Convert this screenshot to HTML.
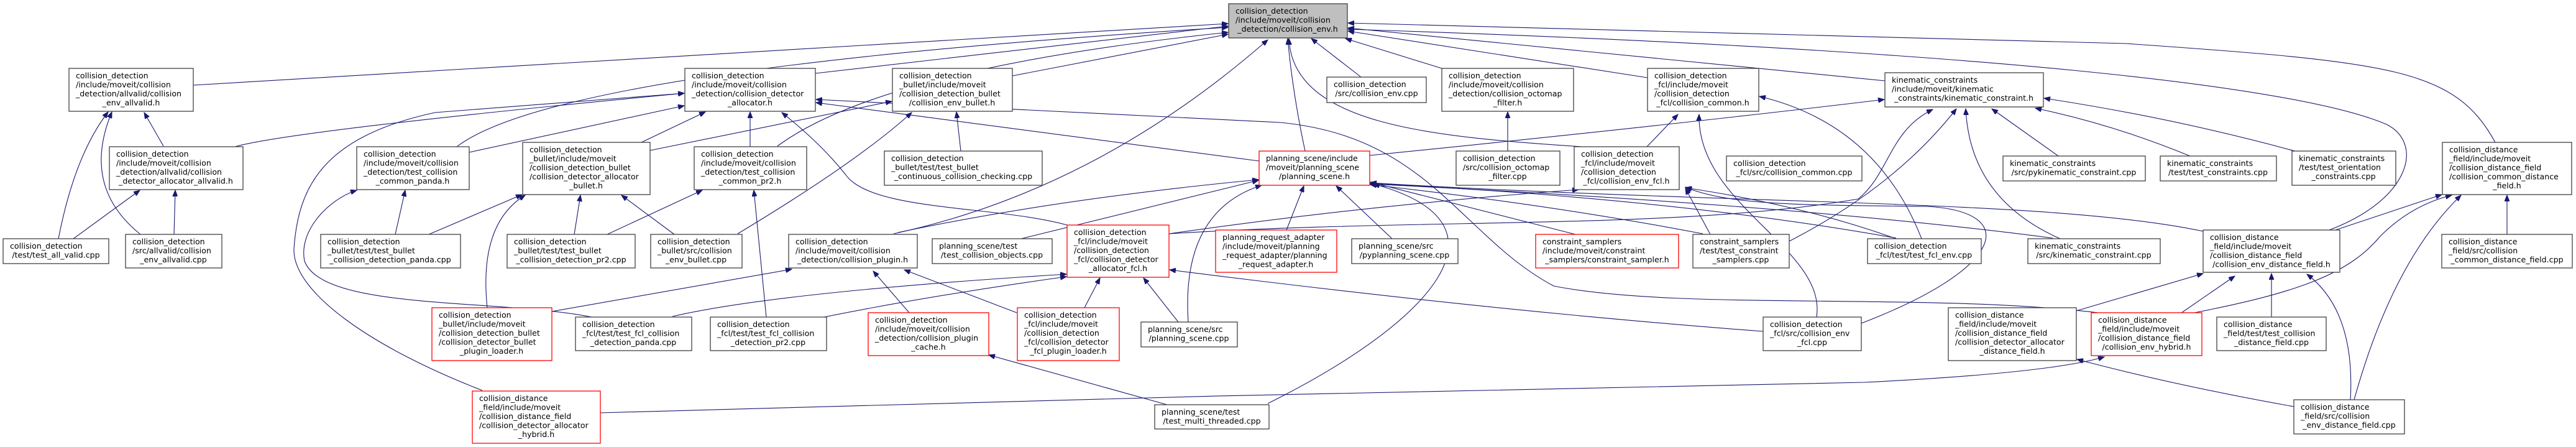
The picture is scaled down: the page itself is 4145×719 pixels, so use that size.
<!DOCTYPE html>
<html><head><meta charset="utf-8"><style>
html,body{margin:0;padding:0;background:#fff;}
svg{display:block;}
text{font-family:"DejaVu Sans","Liberation Sans",sans-serif;font-size:12.6px;fill:#000;}
.e{fill:none;stroke:#191970;stroke-width:1.1;marker-end:url(#a);}
.n{fill:#fff;stroke:#404040;stroke-width:1.3;}
.r{fill:#fff;stroke:#ff0000;stroke-width:1.3;}
.g{fill:#bfbfbf;stroke:#404040;stroke-width:1.3;}
.c{text-anchor:middle;}
</style></head><body>
<svg width="4145" height="719" viewBox="0 0 4145 719" xmlns="http://www.w3.org/2000/svg">
<defs><marker id="a" markerUnits="userSpaceOnUse" markerWidth="11" markerHeight="8" refX="10" refY="4" orient="auto"><path d="M0,0 L10,4 L0,8 z" fill="#191970" stroke="#191970"/></marker></defs>
<g>
<path class="e" d="M94,384 Q120,250 174,180"/>
<path class="e" d="M118,384 L225,306"/>
<path class="e" d="M226,377 Q130,300 180,180"/>
<path class="e" d="M280,377 L282,306"/>
<path class="e" d="M263,235 L232,181"/>
<path class="e" d="M311,137 L1976,38"/>
<path class="e" d="M378,236 Q470,210 1101,150"/>
<path class="e" d="M735,236 Q900,110 1976,44"/>
<path class="e" d="M755,245 L1101,170"/>
<path class="e" d="M636,377 L652,306"/>
<path class="e" d="M690,377 L840,313"/>
<path class="e" d="M1032,229 L1135,180"/>
<path class="e" d="M1046,242 L1435,163"/>
<path class="e" d="M924,377 L934,314"/>
<path class="e" d="M977,377 L1130,306"/>
<path class="e" d="M1085,377 L1000,314"/>
<path class="e" d="M1187,376 Q1380,260 1467,181"/>
<path class="e" d="M1207,236 L1207,180"/>
<path class="e" d="M1251,235 Q1420,110 1976,52"/>
<path class="e" d="M1312,118 L1976,42"/>
<path class="e" d="M784,495 Q770,360 845,314"/>
<path class="e" d="M888,501 L1274,433"/>
<path class="e" d="M952,510 C800,480 520,500 490,420 C480,370 530,320 574,306"/>
<path class="e" d="M1082,509 Q1250,470 1716,441"/>
<path class="e" d="M1233,510 L1213,306"/>
<path class="e" d="M1326,510 Q1500,475 1716,445"/>
<path class="e" d="M776,628 C600,560 470,470 473,400 C480,300 520,220 700,181 L1101,150"/>
<path class="e" d="M966,664 C1500,645 2500,625 3000,615 Q3300,600 3386,574"/>
<path class="e" d="M1438,376 C1650,330 1850,230 2040,64"/>
<path class="e" d="M1445,374 Q1700,320 2025,289"/>
<path class="e" d="M1463,503 L1405,436"/>
<path class="e" d="M1636,503 L1455,434"/>
<path class="e" d="M1745,495 L1770,447"/>
<path class="e" d="M1896,518 L1840,447"/>
<path class="e" d="M1912,518 Q1900,340 2030,298"/>
<path class="e" d="M1878,651 L1591,571"/>
<path class="e" d="M2040,649 C2300,520 2450,360 2210,296"/>
<path class="e" d="M1643,384 L2025,290"/>
<path class="e" d="M1717,362 C1600,330 1400,340 1360,280 Q1320,230 1258,181"/>
<path class="e" d="M1881,376 Q2200,330 2540,305"/>
<path class="e" d="M2837,533 Q2400,500 1882,434"/>
<path class="e" d="M2100,243 Q2080,150 2072,62"/>
<path class="e" d="M2070,370 L2098,299"/>
<path class="e" d="M2240,384 L2150,299"/>
<path class="e" d="M2535,377 L2205,293"/>
<path class="e" d="M2740,376 Q2500,330 2205,297"/>
<path class="e" d="M3303,383 Q2900,330 2205,296"/>
<path class="e" d="M3051,383 Q2700,320 2205,295"/>
<path class="e" d="M2204,250 Q2700,200 3032,160"/>
<path class="e" d="M2650,236 L2700,184"/>
<path class="e" d="M2923,510 C2940,400 2730,330 2734,184"/>
<path class="e" d="M2545,236 C2300,220 2080,200 2074,62"/>
<path class="e" d="M2190,124 L2110,62"/>
<path class="e" d="M2320,110 L2165,62"/>
<path class="e" d="M2426,243 L2426,180"/>
<path class="e" d="M2651,125 L2169,50"/>
<path class="e" d="M3033,130 L2169,45"/>
<path class="e" d="M1881,376 C2300,350 2700,370 2990,320 C3040,280 3040,210 3110,176"/>
<path class="e" d="M2879,388 Q3050,300 3148,175"/>
<path class="e" d="M3315,384 Q3170,320 3163,175"/>
<path class="e" d="M3312,251 L3205,175"/>
<path class="e" d="M3524,251 Q3400,200 3275,174"/>
<path class="e" d="M3700,245 Q3500,190 3289,158"/>
<path class="e" d="M3092,384 Q3020,200 2831,155"/>
<path class="e" d="M3758,370 L3929,313"/>
<path class="e" d="M3748,370 C3880,320 3900,230 3840,200 C3700,140 3200,80 2169,47"/>
<path class="e" d="M4015,229 C3950,110 3850,100 3420,70 L2169,37"/>
<path class="e" d="M3341,500 L3545,440"/>
<path class="e" d="M3506,506 L3596,444"/>
<path class="e" d="M3655,510 L3655,440"/>
<path class="e" d="M3782,643 Q3790,500 3712,441"/>
<path class="e" d="M3531,503 C3700,470 3780,440 3830,380 Q3880,330 3945,314"/>
<path class="e" d="M3788,643 Q3850,420 3960,314"/>
<path class="e" d="M4034,377 L4034,314"/>
<path class="e" d="M3545,372 C3300,320 2800,330 2205,294"/>
<path class="e" d="M3691,654 Q3500,620 3342,578"/>
<path class="e" d="M3376,503 C3100,470 2700,500 2500,460 C2350,380 2300,220 2060,197 L1313,160"/>
<path class="e" d="M2026,259 L1313,165"/>
<path class="e" d="M2995,520 C3230,430 3250,340 3100,332 C2900,330 2780,330 2712,301"/>
<path class="e" d="M3051,384 Q2900,330 2712,302"/>
<path class="e" d="M2752,377 L2712,303"/>
<path class="e" d="M1546,243 L1539,180"/>
<path class="e" d="M1629,122 L1976,55"/>
</g>
<g>
<rect class="n" x="111" y="110" width="200" height="69"/><text x="122" y="126">collision_detection</text><text x="122" y="140.5">/include/moveit/collision</text><text x="122" y="155">_detection/allvalid/collision</text><text class="c" x="211" y="169.5">_env_allvalid.h</text>
<rect class="n" x="176" y="236" width="215" height="69"/><text x="187" y="252">collision_detection</text><text x="187" y="266.5">/include/moveit/collision</text><text x="187" y="281">_detection/allvalid/collision</text><text class="c" x="283" y="295.5">_detector_allocator_allvalid.h</text>
<rect class="n" x="5" y="384" width="170" height="40"/><text x="16" y="400">collision_detection</text><text class="c" x="90" y="414.5">/test/test_all_valid.cpp</text>
<rect class="n" x="202" y="377" width="155" height="54"/><text x="213" y="393">collision_detection</text><text x="213" y="407.5">/src/allvalid/collision</text><text class="c" x="279" y="422">_env_allvalid.cpp</text>
<rect class="n" x="574" y="236" width="181" height="69"/><text x="585" y="252">collision_detection</text><text x="585" y="266.5">/include/moveit/collision</text><text x="585" y="281">_detection/test_collision</text><text class="c" x="664" y="295.5">_common_panda.h</text>
<rect class="n" x="516" y="377" width="225" height="54"/><text x="527" y="393">collision_detection</text><text x="527" y="407.5">_bullet/test/test_bullet</text><text class="c" x="628" y="422">_collision_detection_panda.cpp</text>
<rect class="n" x="1102" y="110" width="210" height="69"/><text x="1113" y="126">collision_detection</text><text x="1113" y="140.5">/include/moveit/collision</text><text x="1113" y="155">_detection/collision_detector</text><text class="c" x="1207" y="169.5">_allocator.h</text>
<rect class="n" x="841" y="229" width="205" height="84"/><text x="852" y="245">collision_detection</text><text x="852" y="259.5">_bullet/include/moveit</text><text x="852" y="274">/collision_detection_bullet</text><text x="852" y="288.5">/collision_detector_allocator</text><text class="c" x="943" y="303">_bullet.h</text>
<rect class="n" x="1117" y="236" width="181" height="69"/><text x="1128" y="252">collision_detection</text><text x="1128" y="266.5">/include/moveit/collision</text><text x="1128" y="281">_detection/test_collision</text><text class="c" x="1207" y="295.5">_common_pr2.h</text>
<rect class="n" x="816" y="377" width="206" height="54"/><text x="827" y="393">collision_detection</text><text x="827" y="407.5">_bullet/test/test_bullet</text><text class="c" x="919" y="422">_collision_detection_pr2.cpp</text>
<rect class="n" x="1047" y="377" width="147" height="54"/><text x="1058" y="393">collision_detection</text><text x="1058" y="407.5">_bullet/src/collision</text><text class="c" x="1120" y="422">_env_bullet.cpp</text>
<rect class="r" x="695" y="495" width="193" height="85"/><text x="706" y="511">collision_detection</text><text x="706" y="525.5">_bullet/include/moveit</text><text x="706" y="540">/collision_detection_bullet</text><text x="706" y="554.5">/collision_detector_bullet</text><text class="c" x="791" y="569">_plugin_loader.h</text>
<rect class="n" x="926" y="510" width="187" height="54"/><text x="937" y="526">collision_detection</text><text x="937" y="540.5">_fcl/test/test_fcl_collision</text><text class="c" x="1019" y="555">_detection_panda.cpp</text>
<rect class="n" x="1143" y="510" width="187" height="54"/><text x="1154" y="526">collision_detection</text><text x="1154" y="540.5">_fcl/test/test_fcl_collision</text><text class="c" x="1236" y="555">_detection_pr2.cpp</text>
<rect class="r" x="760" y="629" width="206" height="84"/><text x="771" y="645">collision_distance</text><text x="771" y="659.5">_field/include/moveit</text><text x="771" y="674">/collision_distance_field</text><text x="771" y="688.5">/collision_detector_allocator</text><text class="c" x="863" y="703">_hybrid.h</text>
<rect class="n" x="1269" y="377" width="207" height="54"/><text x="1280" y="393">collision_detection</text><text x="1280" y="407.5">/include/moveit/collision</text><text class="c" x="1372" y="422">_detection/collision_plugin.h</text>
<rect class="g" x="1977" y="6" width="191" height="55"/><text x="1988" y="22">collision_detection</text><text x="1988" y="36.5">/include/moveit/collision</text><text class="c" x="2072" y="51">_detection/collision_env.h</text>
<rect class="n" x="1436" y="110" width="193" height="69"/><text x="1447" y="126">collision_detection</text><text x="1447" y="140.5">_bullet/include/moveit</text><text x="1447" y="155">/collision_detection_bullet</text><text class="c" x="1532" y="169.5">/collision_env_bullet.h</text>
<rect class="n" x="1423" y="243" width="254" height="55"/><text x="1434" y="259">collision_detection</text><text x="1434" y="273.5">_bullet/test/test_bullet</text><text class="c" x="1550" y="288">_continuous_collision_checking.cpp</text>
<rect class="r" x="2026" y="243" width="178" height="55"/><text x="2037" y="259">planning_scene/include</text><text x="2037" y="273.5">/moveit/planning_scene</text><text class="c" x="2115" y="288">/planning_scene.h</text>
<rect class="n" x="1500" y="384" width="193" height="40"/><text x="1511" y="400">planning_scene/test</text><text class="c" x="1596" y="414.5">/test_collision_objects.cpp</text>
<rect class="r" x="1717" y="362" width="164" height="84"/><text x="1728" y="378">collision_detection</text><text x="1728" y="392.5">_fcl/include/moveit</text><text x="1728" y="407">/collision_detection</text><text x="1728" y="421.5">_fcl/collision_detector</text><text class="c" x="1799" y="436">_allocator_fcl.h</text>
<rect class="r" x="1956" y="370" width="195" height="68"/><text x="1967" y="386">planning_request_adapter</text><text x="1967" y="400.5">/include/moveit/planning</text><text x="1967" y="415">_request_adapter/planning</text><text class="c" x="2053" y="429.5">_request_adapter.h</text>
<rect class="r" x="1397" y="503" width="194" height="69"/><text x="1408" y="519">collision_detection</text><text x="1408" y="533.5">/include/moveit/collision</text><text x="1408" y="548">_detection/collision_plugin</text><text class="c" x="1494" y="562.5">_cache.h</text>
<rect class="r" x="1637" y="495" width="164" height="85"/><text x="1648" y="511">collision_detection</text><text x="1648" y="525.5">_fcl/include/moveit</text><text x="1648" y="540">/collision_detection</text><text x="1648" y="554.5">_fcl/collision_detector</text><text class="c" x="1719" y="569">_fcl_plugin_loader.h</text>
<rect class="n" x="1836" y="518" width="155" height="40"/><text x="1847" y="534">planning_scene/src</text><text class="c" x="1913" y="548.5">/planning_scene.cpp</text>
<rect class="n" x="1858" y="651" width="184" height="39"/><text x="1869" y="667">planning_scene/test</text><text class="c" x="1950" y="681.5">/test_multi_threaded.cpp</text>
<rect class="n" x="2135" y="124" width="160" height="41"/><text x="2146" y="140">collision_detection</text><text class="c" x="2215" y="154.5">/src/collision_env.cpp</text>
<rect class="n" x="2320" y="110" width="212" height="69"/><text x="2331" y="126">collision_detection</text><text x="2331" y="140.5">/include/moveit/collision</text><text x="2331" y="155">_detection/collision_octomap</text><text class="c" x="2426" y="169.5">_filter.h</text>
<rect class="n" x="2343" y="243" width="167" height="55"/><text x="2354" y="259">collision_detection</text><text x="2354" y="273.5">/src/collision_octomap</text><text class="c" x="2426" y="288">_filter.cpp</text>
<rect class="n" x="2533" y="236" width="169" height="69"/><text x="2544" y="252">collision_detection</text><text x="2544" y="266.5">_fcl/include/moveit</text><text x="2544" y="281">/collision_detection</text><text class="c" x="2617" y="295.5">_fcl/collision_env_fcl.h</text>
<rect class="n" x="2175" y="384" width="171" height="40"/><text x="2186" y="400">planning_scene/src</text><text class="c" x="2260" y="414.5">/pyplanning_scene.cpp</text>
<rect class="r" x="2471" y="377" width="230" height="54"/><text x="2482" y="393">constraint_samplers</text><text x="2482" y="407.5">/include/moveit/constraint</text><text class="c" x="2586" y="422">_samplers/constraint_sampler.h</text>
<rect class="n" x="2651" y="110" width="179" height="69"/><text x="2662" y="126">collision_detection</text><text x="2662" y="140.5">_fcl/include/moveit</text><text x="2662" y="155">/collision_detection</text><text class="c" x="2740" y="169.5">_fcl/collision_common.h</text>
<rect class="n" x="2724" y="377" width="155" height="54"/><text x="2735" y="393">constraint_samplers</text><text x="2735" y="407.5">/test/test_constraint</text><text class="c" x="2801" y="422">_samplers.cpp</text>
<rect class="n" x="3033" y="117" width="255" height="55"/><text x="3044" y="133">kinematic_constraints</text><text x="3044" y="147.5">/include/moveit/kinematic</text><text class="c" x="3160" y="162">_constraints/kinematic_constraint.h</text>
<rect class="n" x="2778" y="251" width="218" height="40"/><text x="2789" y="267">collision_detection</text><text class="c" x="2887" y="281.5">_fcl/src/collision_common.cpp</text>
<rect class="n" x="3005" y="384" width="183" height="40"/><text x="3016" y="400">collision_detection</text><text class="c" x="3096" y="414.5">_fcl/test/test_fcl_env.cpp</text>
<rect class="n" x="3263" y="384" width="213" height="40"/><text x="3274" y="400">kinematic_constraints</text><text class="c" x="3369" y="414.5">/src/kinematic_constraint.cpp</text>
<rect class="n" x="3223" y="251" width="229" height="40"/><text x="3234" y="267">kinematic_constraints</text><text class="c" x="3337" y="281.5">/src/pykinematic_constraint.cpp</text>
<rect class="n" x="2837" y="510" width="158" height="54"/><text x="2848" y="526">collision_detection</text><text x="2848" y="540.5">_fcl/src/collision_env</text><text class="c" x="2916" y="555">_fcl.cpp</text>
<rect class="n" x="3135" y="495" width="206" height="85"/><text x="3146" y="511">collision_distance</text><text x="3146" y="525.5">_field/include/moveit</text><text x="3146" y="540">/collision_distance_field</text><text x="3146" y="554.5">/collision_detector_allocator</text><text class="c" x="3238" y="569">_distance_field.h</text>
<rect class="r" x="3365" y="503" width="178" height="69"/><text x="3376" y="519">collision_distance</text><text x="3376" y="533.5">_field/include/moveit</text><text x="3376" y="548">/collision_distance_field</text><text class="c" x="3454" y="562.5">/collision_env_hybrid.h</text>
<rect class="n" x="3476" y="251" width="187" height="40"/><text x="3487" y="267">kinematic_constraints</text><text class="c" x="3569" y="281.5">/test/test_constraints.cpp</text>
<rect class="n" x="3688" y="243" width="167" height="55"/><text x="3699" y="259">kinematic_constraints</text><text x="3699" y="273.5">/test/test_orientation</text><text class="c" x="3771" y="288">_constraints.cpp</text>
<rect class="n" x="3930" y="229" width="208" height="84"/><text x="3941" y="245">collision_distance</text><text x="3941" y="259.5">_field/include/moveit</text><text x="3941" y="274">/collision_distance_field</text><text x="3941" y="288.5">/collision_common_distance</text><text class="c" x="4034" y="303">_field.h</text>
<rect class="n" x="3545" y="370" width="220" height="68"/><text x="3556" y="386">collision_distance</text><text x="3556" y="400.5">_field/include/moveit</text><text x="3556" y="415">/collision_distance_field</text><text class="c" x="3655" y="429.5">/collision_env_distance_field.h</text>
<rect class="n" x="3929" y="377" width="210" height="54"/><text x="3940" y="393">collision_distance</text><text x="3940" y="407.5">_field/src/collision</text><text class="c" x="4034" y="422">_common_distance_field.cpp</text>
<rect class="n" x="3567" y="510" width="176" height="54"/><text x="3578" y="526">collision_distance</text><text x="3578" y="540.5">_field/test/test_collision</text><text class="c" x="3655" y="555">_distance_field.cpp</text>
<rect class="n" x="3691" y="643" width="178" height="55"/><text x="3702" y="659">collision_distance</text><text x="3702" y="673.5">_field/src/collision</text><text class="c" x="3780" y="688">_env_distance_field.cpp</text>
</g>
</svg>
</body></html>
